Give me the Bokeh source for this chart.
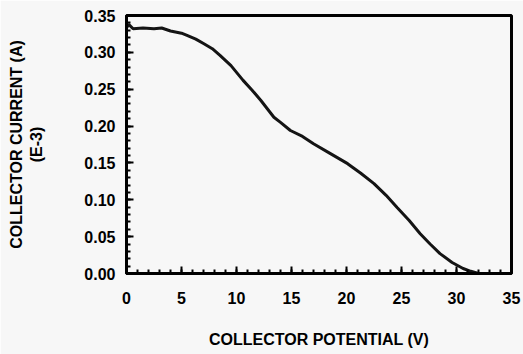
from bokeh.plotting import figure
from bokeh.models import Range1d, FixedTicker, NumeralTickFormatter
from bokeh.embed import file_html
from bokeh.resources import INLINE

potential_v = [0, 0.2, 0.6, 1.5, 2.5, 3.2, 4, 5, 5.5, 6.3, 7, 7.8, 8.5, 9.5, 10.6, 11.4,
               12.2, 13.4, 14, 14.9, 16, 17, 18.5, 20.1, 21.3, 22.5, 23.6, 24.6, 25.7,
               26.7, 27.6, 28.5, 29.6, 30.6, 31.3, 32]
current_a = [0.333, 0.338, 0.332, 0.333, 0.332, 0.333, 0.329, 0.326, 0.323, 0.318, 0.312,
             0.305, 0.296, 0.282, 0.262, 0.249, 0.235, 0.212, 0.205, 0.194, 0.186, 0.176,
             0.163, 0.149, 0.136, 0.122, 0.106, 0.0895, 0.072, 0.054, 0.04, 0.027, 0.015,
             0.0068, 0.003, 0.0]

x_ticks = [0, 5, 10, 15, 20, 25, 30, 35]
x_minor = [i for i in range(0, 36)]
y_ticks = [0.0, 0.05, 0.10, 0.15, 0.20, 0.25, 0.30, 0.35]
y_minor = [i / 100 for i in range(0, 36)]

FONT = "Liberation Sans"
BG = "#f7f7f7"
INK = "black"

p = figure(width=523, height=354, output_backend="svg", toolbar_location=None,
           x_range=Range1d(0, 35), y_range=Range1d(0, 0.35),
           min_border_left=126, min_border_top=15, min_border_right=12, min_border_bottom=81)
p.background_fill_color = BG
p.border_fill_color = BG
p.grid.visible = False
p.outline_line_color = INK
p.outline_line_width = 3
p.outline_line_alpha = 1.0

p.line(potential_v, current_a, line_color="#141414", line_width=3)

def style(ax):
    ax.axis_line_color = INK
    ax.axis_line_width = 3
    ax.axis_line_alpha = 1.0
    ax.major_tick_in = 7
    ax.major_tick_out = 0
    ax.minor_tick_in = 4
    ax.minor_tick_out = 0
    ax.major_tick_line_color = INK
    ax.minor_tick_line_color = INK
    ax.major_tick_line_width = 2
    ax.minor_tick_line_width = 2
    ax.major_label_text_font = FONT
    ax.major_label_text_font_size = "16px"
    ax.major_label_text_font_style = "bold"
    ax.major_label_text_color = INK
    ax.axis_label_text_font = FONT
    ax.axis_label_text_font_size = "16px"
    ax.axis_label_text_font_style = "bold"
    ax.axis_label_text_color = INK

p.xaxis.ticker = FixedTicker(ticks=x_ticks, minor_ticks=x_minor)
p.yaxis.ticker = FixedTicker(ticks=y_ticks, minor_ticks=y_minor)
p.yaxis.formatter = NumeralTickFormatter(format="0.00")
style(p.xaxis[0])
style(p.yaxis[0])
p.xaxis.axis_label = "COLLECTOR POTENTIAL (V)"
p.yaxis.axis_label = "COLLECTOR CURRENT (A)\n(E-3)"
p.xaxis.major_label_standoff = 18
p.xaxis.axis_label_standoff = 24
p.yaxis.major_label_standoff = 11
p.yaxis.axis_label_standoff = 36

open("out.html", "w").write(file_html(p, INLINE))
